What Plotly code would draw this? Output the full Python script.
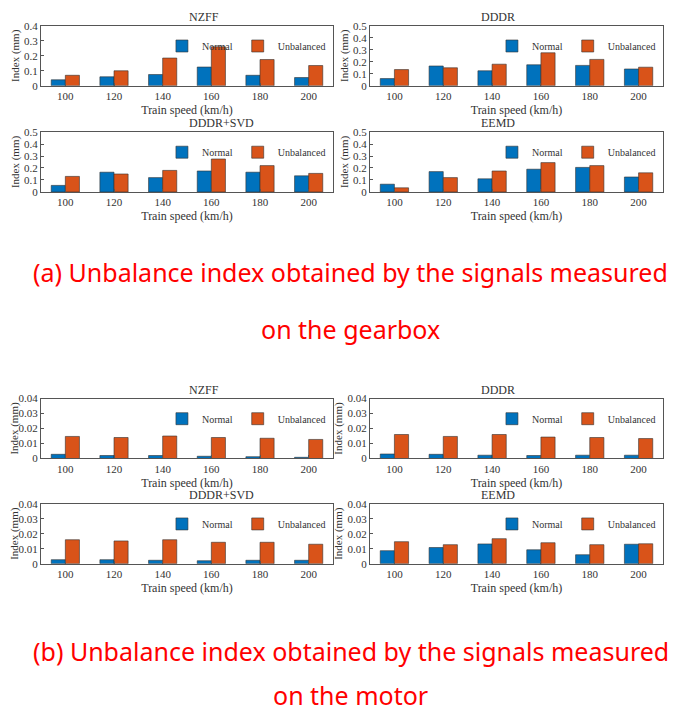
import plotly.graph_objects as go

speeds = ["100", "120", "140", "160", "180", "200"]
methods = ["NZFF", "DDDR", "DDDR+SVD", "EEMD"]

# gearbox signals
gear_normal = {
    "NZFF": [0.04, 0.06, 0.075, 0.125, 0.07, 0.055],
    "DDDR": [0.06, 0.165, 0.125, 0.175, 0.17, 0.14],
    "DDDR+SVD": [0.055, 0.165, 0.12, 0.175, 0.165, 0.135],
    "EEMD": [0.065, 0.17, 0.11, 0.19, 0.205, 0.125],
}
gear_unbal = {
    "NZFF": [0.07, 0.10, 0.185, 0.26, 0.175, 0.135],
    "DDDR": [0.135, 0.15, 0.18, 0.275, 0.22, 0.155],
    "DDDR+SVD": [0.13, 0.15, 0.18, 0.275, 0.22, 0.155],
    "EEMD": [0.035, 0.12, 0.175, 0.245, 0.22, 0.16],
}
# motor signals
motor_normal = {
    "NZFF": [0.0028, 0.002, 0.002, 0.0015, 0.0012, 0.0008],
    "DDDR": [0.003, 0.0028, 0.0022, 0.002, 0.0022, 0.0022],
    "DDDR+SVD": [0.0027, 0.0027, 0.0023, 0.002, 0.0023, 0.0023],
    "EEMD": [0.0087, 0.0108, 0.0132, 0.0093, 0.006, 0.013],
}
motor_unbal = {
    "NZFF": [0.0147, 0.014, 0.015, 0.014, 0.0135, 0.0127],
    "DDDR": [0.016, 0.0147, 0.016, 0.0143, 0.014, 0.0133],
    "DDDR+SVD": [0.016, 0.0152, 0.016, 0.0143, 0.0143, 0.013],
    "EEMD": [0.0147, 0.0127, 0.0167, 0.014, 0.0127, 0.0133],
}
gear_ymax = {"NZFF": 0.4, "DDDR": 0.5, "DDDR+SVD": 0.5, "EEMD": 0.5}

W, H = 685, 723
BLUE, ORANGE = "#0072BD", "#D95319"
FONT = "Liberation Serif"

# panel boxes in pixels: (left, right) and (top, bottom)
cols = [(33, 325), (362, 655)]
rows = [(12, 73), (120, 181), (391, 452), (498, 559)]

fig = go.Figure()
layout = {}
k = 0
for block, (normal, unbal) in enumerate([(gear_normal, gear_unbal), (motor_normal, motor_unbal)]):
    for i, m in enumerate(methods):
        k += 1
        r = rows[block * 2 + i // 2]
        c = cols[i % 2]
        sx = "" if k == 1 else str(k)
        lg = "legend" if k == 1 else f"legend{k}"
        for name, vals, col in [("Normal", normal[m], BLUE), ("Unbalanced", unbal[m], ORANGE)]:
            fig.add_trace(go.Bar(x=speeds, y=vals, name=name, marker_color=col,
                                 marker_line=dict(color="#333", width=0.6),
                                 xaxis="x" + sx, yaxis="y" + sx, legend=lg))
        xd = [c[0] / W, c[1] / W]
        yd = [1 - r[1] / H, 1 - r[0] / H]
        ymax = gear_ymax[m] if block == 0 else 0.04
        dt = 0.1 if block == 0 else 0.01
        axstyle = dict(showline=True, mirror=True, linecolor="#555", linewidth=1,
                       ticks="inside", ticklen=3, tickcolor="#555",
                       tickfont=dict(family=FONT, size=11, color="#333"))
        layout["xaxis" + sx] = dict(domain=xd, anchor="y" + sx,
                                    title=dict(text="Train speed (km/h)", standoff=4,
                                               font=dict(family=FONT, size=12, color="#333")),
                                    **axstyle)
        layout["yaxis" + sx] = dict(domain=yd, anchor="x" + sx, range=[0, ymax], dtick=dt,
                                    showgrid=False, zeroline=False,
                                    title=dict(text="Index (mm)", standoff=2,
                                               font=dict(family=FONT, size=11, color="#333")),
                                    **axstyle)
        layout[lg] = dict(x=xd[1] - 0.003, y=yd[1] - 0.008, xanchor="right", yanchor="top",
                          orientation="h", bgcolor="rgba(0,0,0,0)",
                          font=dict(family=FONT, size=10, color="#333"),
                          itemwidth=30, tracegroupgap=0)
        fig.add_annotation(text=m, x=(xd[0] + xd[1]) / 2, y=yd[1], xref="paper", yref="paper",
                           yanchor="bottom", showarrow=False,
                           font=dict(family=FONT, size=12, color="#333"))

captions = [("(a) Unbalance index obtained by the signals measured", 262),
            ("on the gearbox", 320),
            ("(b) Unbalance index obtained by the signals measured", 667),
            ("on the motor", 712)]
for text, yp in captions:
    fig.add_annotation(text=text, x=0.5, y=1 - yp / H, xref="paper", yref="paper",
                       showarrow=False, font=dict(family="Noto Sans", size=25, color="#FF0000"))

fig.update_layout(**layout)
fig.update_layout(width=W, height=H, margin=dict(l=0, r=0, t=0, b=0),
                  paper_bgcolor="white", plot_bgcolor="white",
                  barmode="group", bargap=0.42, bargroupgap=0)
fig.write_html("out.html")
